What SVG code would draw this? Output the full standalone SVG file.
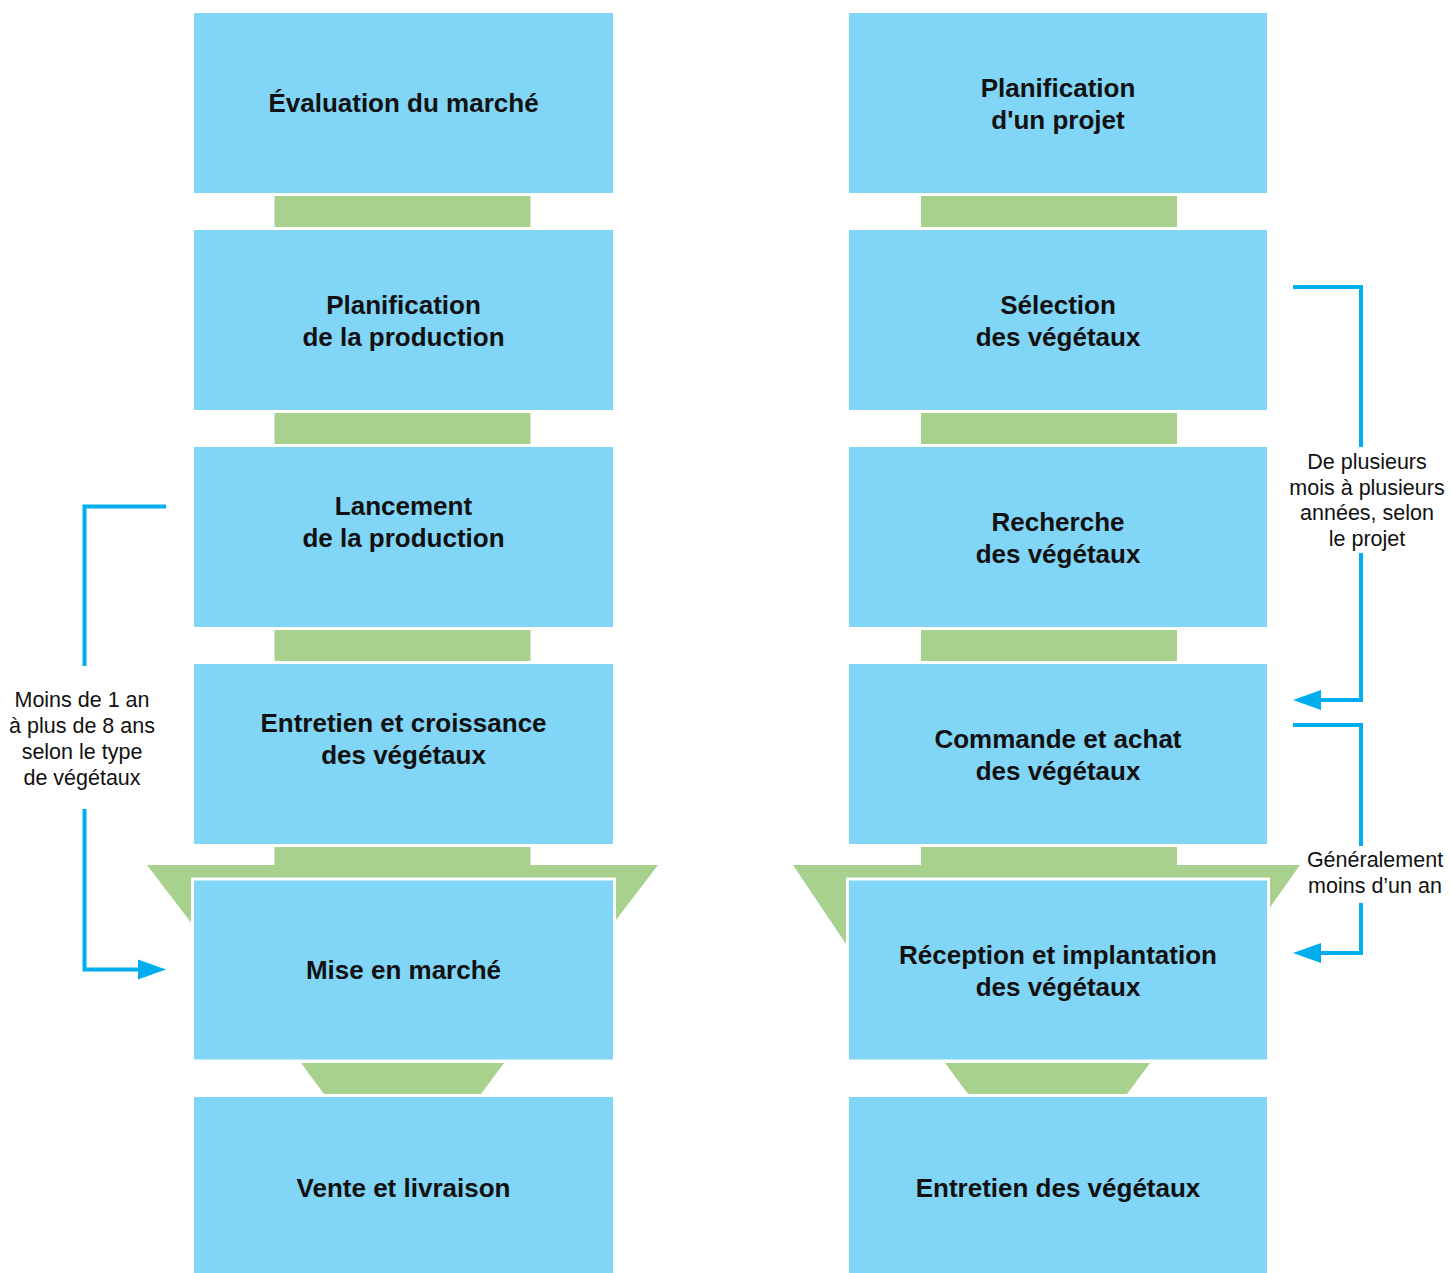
<svg xmlns="http://www.w3.org/2000/svg" width="1450" height="1273" viewBox="0 0 1450 1273">
<style>
.box{fill:#81d5f7}
.boxw{fill:#81d5f7;stroke:#ffffff;stroke-width:3}
.g{fill:#a9d18e}
.t{font-family:"Liberation Sans",Arial,sans-serif;font-weight:bold;font-size:26px;fill:#111;text-anchor:middle}
.l{font-family:"Liberation Sans",Arial,sans-serif;font-size:21.5px;fill:#111;text-anchor:middle}
.c{fill:none;stroke:#00aeef;stroke-width:4}
.a{fill:#00aeef}
</style>
<rect width="1450" height="1273" fill="#ffffff"/>
<g id="links-left">
<rect class="g" x="274.5" y="196" width="256" height="31"/>
<rect class="g" x="274.5" y="413" width="256" height="31"/>
<rect class="g" x="274.5" y="630" width="256" height="31"/>
<rect class="g" x="274.5" y="847" width="256" height="20"/>
<polygon class="g" points="147,865 658,865 603,937 202,937"/>
<polygon class="g" points="301,1063 504,1063 481,1094 324,1094"/>
</g>
<g id="links-right">
<rect class="g" x="921" y="196" width="256" height="31"/>
<rect class="g" x="921" y="413" width="256" height="31"/>
<rect class="g" x="921" y="630" width="256" height="31"/>
<rect class="g" x="921" y="847" width="256" height="20"/>
<polygon class="g" points="793,865 1300,865 1240,950 850,950"/>
<polygon class="g" points="945,1063 1150,1063 1127,1094 968,1094"/>
</g>
<g id="n1"><rect class="box" x="194" y="13" width="419" height="180"/><text class="t" x="403.5" y="112">Évaluation du marché</text></g>
<g id="n2"><rect class="box" x="194" y="230" width="419" height="180"/><text class="t" x="403.5" y="314">Planification</text><text class="t" x="403.5" y="346">de la production</text></g>
<g id="n3"><rect class="box" x="194" y="447" width="419" height="180"/><text class="t" x="403.5" y="515">Lancement</text><text class="t" x="403.5" y="547">de la production</text></g>
<g id="n4"><rect class="box" x="194" y="664" width="419" height="180"/><text class="t" x="403.5" y="732">Entretien et croissance</text><text class="t" x="403.5" y="764">des végétaux</text></g>
<g id="n5"><rect class="boxw" x="192.5" y="879" width="422" height="182"/><text class="t" x="403.5" y="979">Mise en marché</text></g>
<g id="n6"><rect class="box" x="194" y="1097" width="419" height="176"/><text class="t" x="403.5" y="1197">Vente et livraison</text></g>
<g id="m1"><rect class="box" x="849" y="13" width="418" height="180"/><text class="t" x="1058" y="97">Planification</text><text class="t" x="1058" y="129">d'un projet</text></g>
<g id="m2"><rect class="box" x="849" y="230" width="418" height="180"/><text class="t" x="1058" y="314">Sélection</text><text class="t" x="1058" y="346">des végétaux</text></g>
<g id="m3"><rect class="box" x="849" y="447" width="418" height="180"/><text class="t" x="1058" y="531">Recherche</text><text class="t" x="1058" y="563">des végétaux</text></g>
<g id="m4"><rect class="box" x="849" y="664" width="418" height="180"/><text class="t" x="1058" y="748">Commande et achat</text><text class="t" x="1058" y="780">des végétaux</text></g>
<g id="m5"><rect class="boxw" x="847.5" y="879" width="421" height="182"/><text class="t" x="1058" y="964">Réception et implantation</text><text class="t" x="1058" y="996">des végétaux</text></g>
<g id="m6"><rect class="box" x="849" y="1097" width="418" height="176"/><text class="t" x="1058" y="1197">Entretien des végétaux</text></g>
<g id="connectors">
<polyline class="c" points="166,506.5 84.5,506.5 84.5,666"/>
<polyline class="c" points="84.5,809 84.5,969.5 142,969.5"/>
<polygon class="a" points="166,969.5 138,959.5 138,979.5"/>
<polyline class="c" points="1293,287 1361,287 1361,447"/>
<polyline class="c" points="1361,553 1361,700 1318,700"/>
<polygon class="a" points="1293,700 1321,690 1321,710"/>
<polyline class="c" points="1293,725 1361,725 1361,846"/>
<polyline class="c" points="1361,903 1361,953 1318,953"/>
<polygon class="a" points="1293,953 1321,943 1321,963"/>
</g>
<g id="labels">
<text class="l" x="82" y="707">Moins de 1 an</text>
<text class="l" x="82" y="733">à plus de 8 ans</text>
<text class="l" x="82" y="759">selon le type</text>
<text class="l" x="82" y="785">de végétaux</text>
<text class="l" x="1367" y="469">De plusieurs</text>
<text class="l" x="1367" y="495">mois à plusieurs</text>
<text class="l" x="1367" y="520">années, selon</text>
<text class="l" x="1367" y="546">le projet</text>
<text class="l" x="1375" y="867">Généralement</text>
<text class="l" x="1375" y="893">moins d’un an</text>
</g>
</svg>
